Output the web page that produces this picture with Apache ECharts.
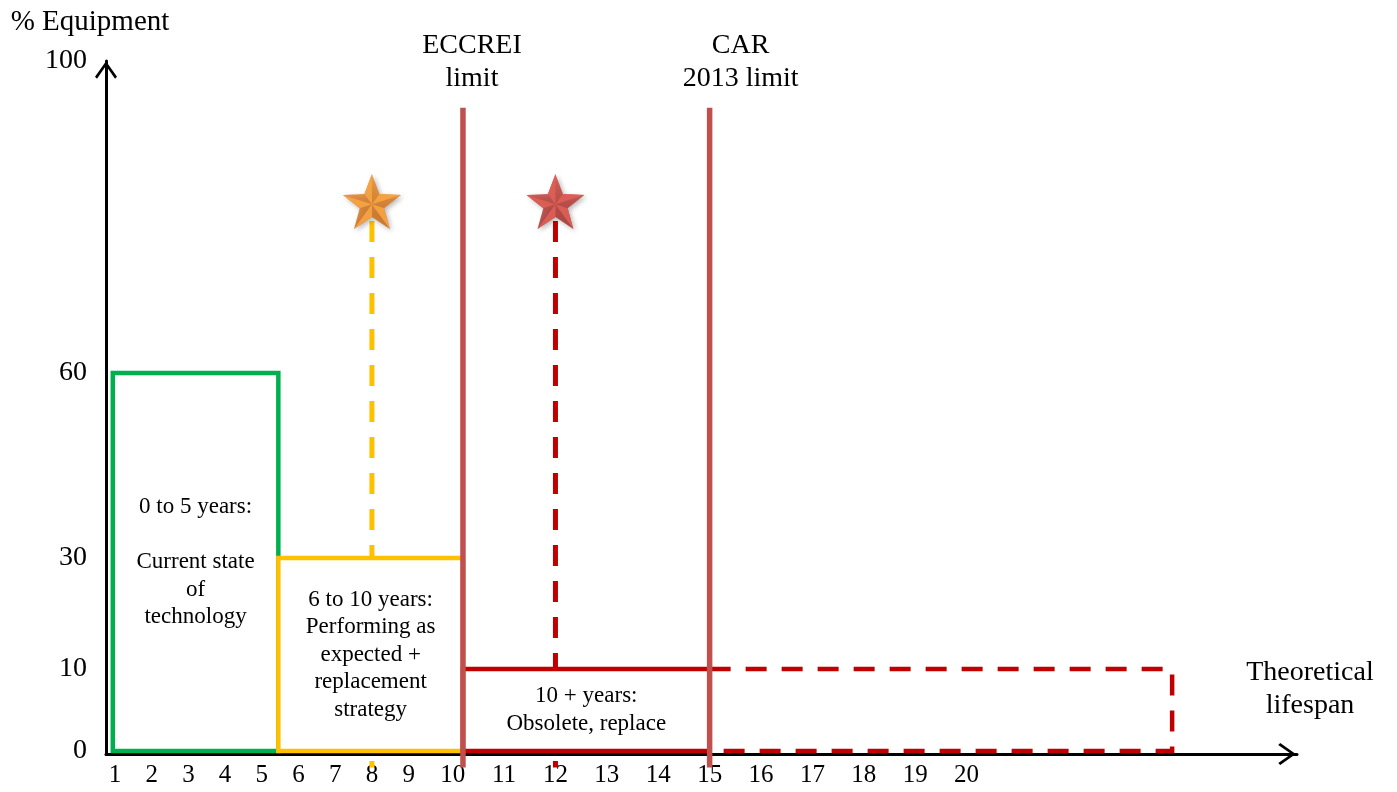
<!DOCTYPE html>
<html>
<head>
<meta charset="utf-8">
<script src="https://cdn.jsdelivr.net/npm/echarts@6/dist/echarts.min.js"></script>
<style>
  html, body { margin: 0; padding: 0; background: #fff; }
  #chart { width: 1397px; height: 792px; }
</style>
</head>
<body>
<div id="chart"></div>
<script>
// ---- Data -----------------------------------------------------------------
// Age bands of equipment: start / end of band (years) and share of equipment (%)
const bandLabels = [
  '0 to 5 years:\n\nCurrent state\nof\ntechnology',
  '6 to 10 years:\nPerforming as\nexpected +\nreplacement\nstrategy',
  '10 + years:\nObsolete, replace',
  ''
];
const bandStartYear = [0.94, 5.45, 10.2, 15];
const bandEndYear   = [5.45, 10.2, 15, 24];
const bandShare     = [60, 30, 10, 10];

// Regulatory limits (years) and the vertical span of their rules (%)
const limitNames = ['ECCREI\nlimit', 'CAR\n2013 limit'];
const limitYear  = [10.2, 15];
const limitSpan  = [94, -2];

// Star markers with their dashed drop lines
const markerYear  = [8, 12];
const markerShare = [82, 82];
const markerDropSpan = [79.5, -2];

// Axis ticks
const xTickYears  = [1, 2, 3, 4, 5, 6, 7, 8, 9, 10, 11, 12, 13, 14, 15, 16, 17, 18, 19, 20];
const yTickShares = [0, 10, 30, 60, 100];
// Schematic (non-uniform) spacing of the % axis, in axis units per tick
const yTickDepth  = [0, 82, 193, 378, 690];

// ---- Scales ---------------------------------------------------------------
// Piecewise-linear mapping with linear extrapolation past both ends
function piecewise(stopsIn, stopsOut, v) {
  let i = 1;
  while (i < stopsIn.length - 1 && v > stopsIn[i]) i++;
  const a = stopsIn[i - 1], b = stopsIn[i];
  return stopsOut[i - 1] + (v - a) / (b - a) * (stopsOut[i] - stopsOut[i - 1]);
}
// Year labels flow like text: two-digit labels take a wider slot
const slotWidth = n => (String(n).length === 1 ? 1 : 1.4);
const xTickUnits = [];
xTickYears.forEach((n, i) => {
  xTickUnits.push(i === 0 ? 0 : xTickUnits[i - 1] + (slotWidth(xTickYears[i - 1]) + slotWidth(n)) / 2);
});
const xUnit = year => piecewise(xTickYears, xTickUnits, year);
const yUnit = share => piecewise(yTickShares, yTickDepth, share);

function tickText(values, units, v) {
  for (let i = 0; i < units.length; i++) {
    if (Math.abs(units[i] - v) < 1e-6) return String(values[i]);
  }
  return '';
}

// ---- Styles ---------------------------------------------------------------
const SERIF = '"Liberation Serif", "Times New Roman", serif';
const bandColors = ['#00B050', '#FFC000', '#C00000', '#C00000'];
const bandDashed = [false, false, false, true];
const limitColor = '#C0504D';
const limitLabelShift = [9, 31];
const markerColors = ['#FFC000', '#C00000'];
const starBase = [
  { top: '#EE8A22', bottom: '#C8620C' },
  { top: '#D2443D', bottom: '#9E2520' }
];
const starFacet = ['#F6A445', '#DE5F57'];
const chevron = 'path://M11,0 L22,15.5 L20,17.5 L11,4.5 L2,17.5 L0,15.5 Z';
const starPath = 'path://M50,0 L62.34,33.01 L97.55,34.55 L69.97,56.49 L79.39,90.45 L50,71 L20.61,90.45 L30.03,56.49 L2.45,34.55 L37.66,33.01 Z';
const facetPath = 'path://M50,50L50,0L37.66,33.01Z M50,50L97.55,34.55L62.34,33.01Z M50,50L79.39,90.45L69.97,56.49Z M50,50L20.61,90.45L50,71Z M50,50L2.45,34.55L30.03,56.49Z';

// ---- Series data ----------------------------------------------------------
const bandData = bandStartYear.map((s, i) => [xUnit(s), xUnit(bandEndYear[i]), yUnit(bandShare[i]), yUnit(0)]);
const limitData = limitYear.map(y => [xUnit(y), yUnit(limitSpan[0]), yUnit(limitSpan[1])]);
const starData = markerYear.map((y, i) => [xUnit(y), yUnit(markerShare[i])]);

const dropSeries = markerYear.map((y, i) => ({
  type: 'line',
  z: 1,
  clip: false,
  symbol: 'none',
  silent: true,
  lineStyle: { color: markerColors[i], width: 5, type: [21, 15], cap: 'butt' },
  data: [[xUnit(y), yUnit(markerDropSpan[0])], [xUnit(y), yUnit(markerDropSpan[1])]]
}));

const chart = echarts.init(document.getElementById('chart'), null, { renderer: 'canvas' });

chart.setOption({
  animation: false,
  backgroundColor: '#fff',
  grid: { left: 106, right: 100, top: 61, bottom: 38, containLabel: false },
  xAxis: {
    type: 'value',
    min: xUnit(0.755),
    max: xUnit(26.43),
    splitLine: { show: false },
    axisTick: { show: false },
    axisLine: {
      onZero: false,
      lineStyle: { color: '#000', width: 3 },
      symbol: ['none', chevron],
      symbolSize: [22, 20],
      symbolOffset: [0, -10]
    },
    axisLabel: {
      customValues: xTickUnits,
      formatter: v => tickText(xTickYears, xTickUnits, v),
      fontFamily: SERIF,
      fontSize: 25,
      color: '#000',
      margin: 9
    },
    name: 'Theoretical\nlifespan',
    nameLocation: 'end',
    nameGap: 13,
    nameTextStyle: {
      fontFamily: SERIF, fontSize: 28, color: '#000', lineHeight: 33,
      align: 'center', verticalAlign: 'bottom', padding: [0, 0, 32, 0]
    }
  },
  yAxis: {
    type: 'value',
    min: -3,
    max: yUnit(100),
    splitLine: { show: false },
    axisTick: { show: false },
    axisLine: {
      onZero: false,
      lineStyle: { color: '#000', width: 3 },
      symbol: ['none', chevron],
      symbolSize: [22, 18],
      symbolOffset: [0, -9]
    },
    axisLabel: {
      customValues: yTickShares.map(yUnit),
      formatter: v => tickText(yTickShares, yTickShares.map(yUnit), v),
      fontFamily: SERIF,
      fontSize: 28,
      color: '#000',
      margin: 19
    },
    name: '% Equipment',
    nameLocation: 'end',
    nameGap: 24,
    nameTextStyle: {
      fontFamily: SERIF, fontSize: 29, color: '#000',
      align: 'center', padding: [0, 32, 0, 0]
    }
  },
  series: [
    ...dropSeries,
    {
      type: 'custom',
      z: 2,
      clip: false,
      silent: true,
      data: bandData,
      encode: { x: [0, 1], y: [2, 3] },
      renderItem(params, api) {
        const i = params.dataIndex;
        const tl = api.coord([api.value(0), api.value(2)]);
        const br = api.coord([api.value(1), api.value(3)]);
        return {
          type: 'rect',
          shape: { x: tl[0], y: tl[1], width: br[0] - tl[0], height: br[1] - tl[1] },
          style: {
            fill: '#fff',
            stroke: bandColors[i],
            lineWidth: 4.5,
            lineDash: bandDashed[i] ? [21, 15] : null
          },
          textContent: {
            style: {
              text: bandLabels[i],
              fontFamily: SERIF,
              fontSize: 23,
              lineHeight: 27.5,
              fill: '#000',
              align: 'center',
              verticalAlign: 'middle'
            }
          },
          textConfig: { position: 'inside' }
        };
      }
    },
    {
      type: 'custom',
      z: 3,
      clip: false,
      silent: true,
      data: limitData,
      encode: { x: 0, y: [1, 2] },
      renderItem(params, api) {
        const i = params.dataIndex;
        const top = api.coord([api.value(0), api.value(1)]);
        const bot = api.coord([api.value(0), api.value(2)]);
        return {
          type: 'group',
          children: [
            {
              type: 'line',
              shape: { x1: top[0], y1: top[1], x2: bot[0], y2: bot[1] },
              style: { stroke: limitColor, lineWidth: 5.5 }
            },
            {
              type: 'text',
              x: top[0] + limitLabelShift[i],
              y: top[1] - 13,
              style: {
                text: limitNames[i],
                fontFamily: SERIF,
                fontSize: 28,
                lineHeight: 33,
                fill: '#000',
                align: 'center',
                verticalAlign: 'bottom'
              }
            }
          ]
        };
      }
    },
    {
      type: 'scatter',
      z: 4,
      silent: true,
      symbol: starPath,
      symbolSize: [58, 55],
      data: starData.map((d, i) => ({
        value: d,
        itemStyle: {
          color: new echarts.graphic.LinearGradient(0, 0, 0, 1, [
            { offset: 0, color: starBase[i].top },
            { offset: 1, color: starBase[i].bottom }
          ]),
          shadowBlur: 5,
          shadowOffsetX: 2,
          shadowOffsetY: 2,
          shadowColor: 'rgba(0,0,0,0.35)'
        }
      }))
    },
    {
      type: 'scatter',
      z: 5,
      silent: true,
      symbol: facetPath,
      symbolSize: [58, 55],
      data: starData.map((d, i) => ({
        value: d,
        itemStyle: { color: starFacet[i], opacity: 0.9 }
      }))
    }
  ]
});
</script>
</body>
</html>
